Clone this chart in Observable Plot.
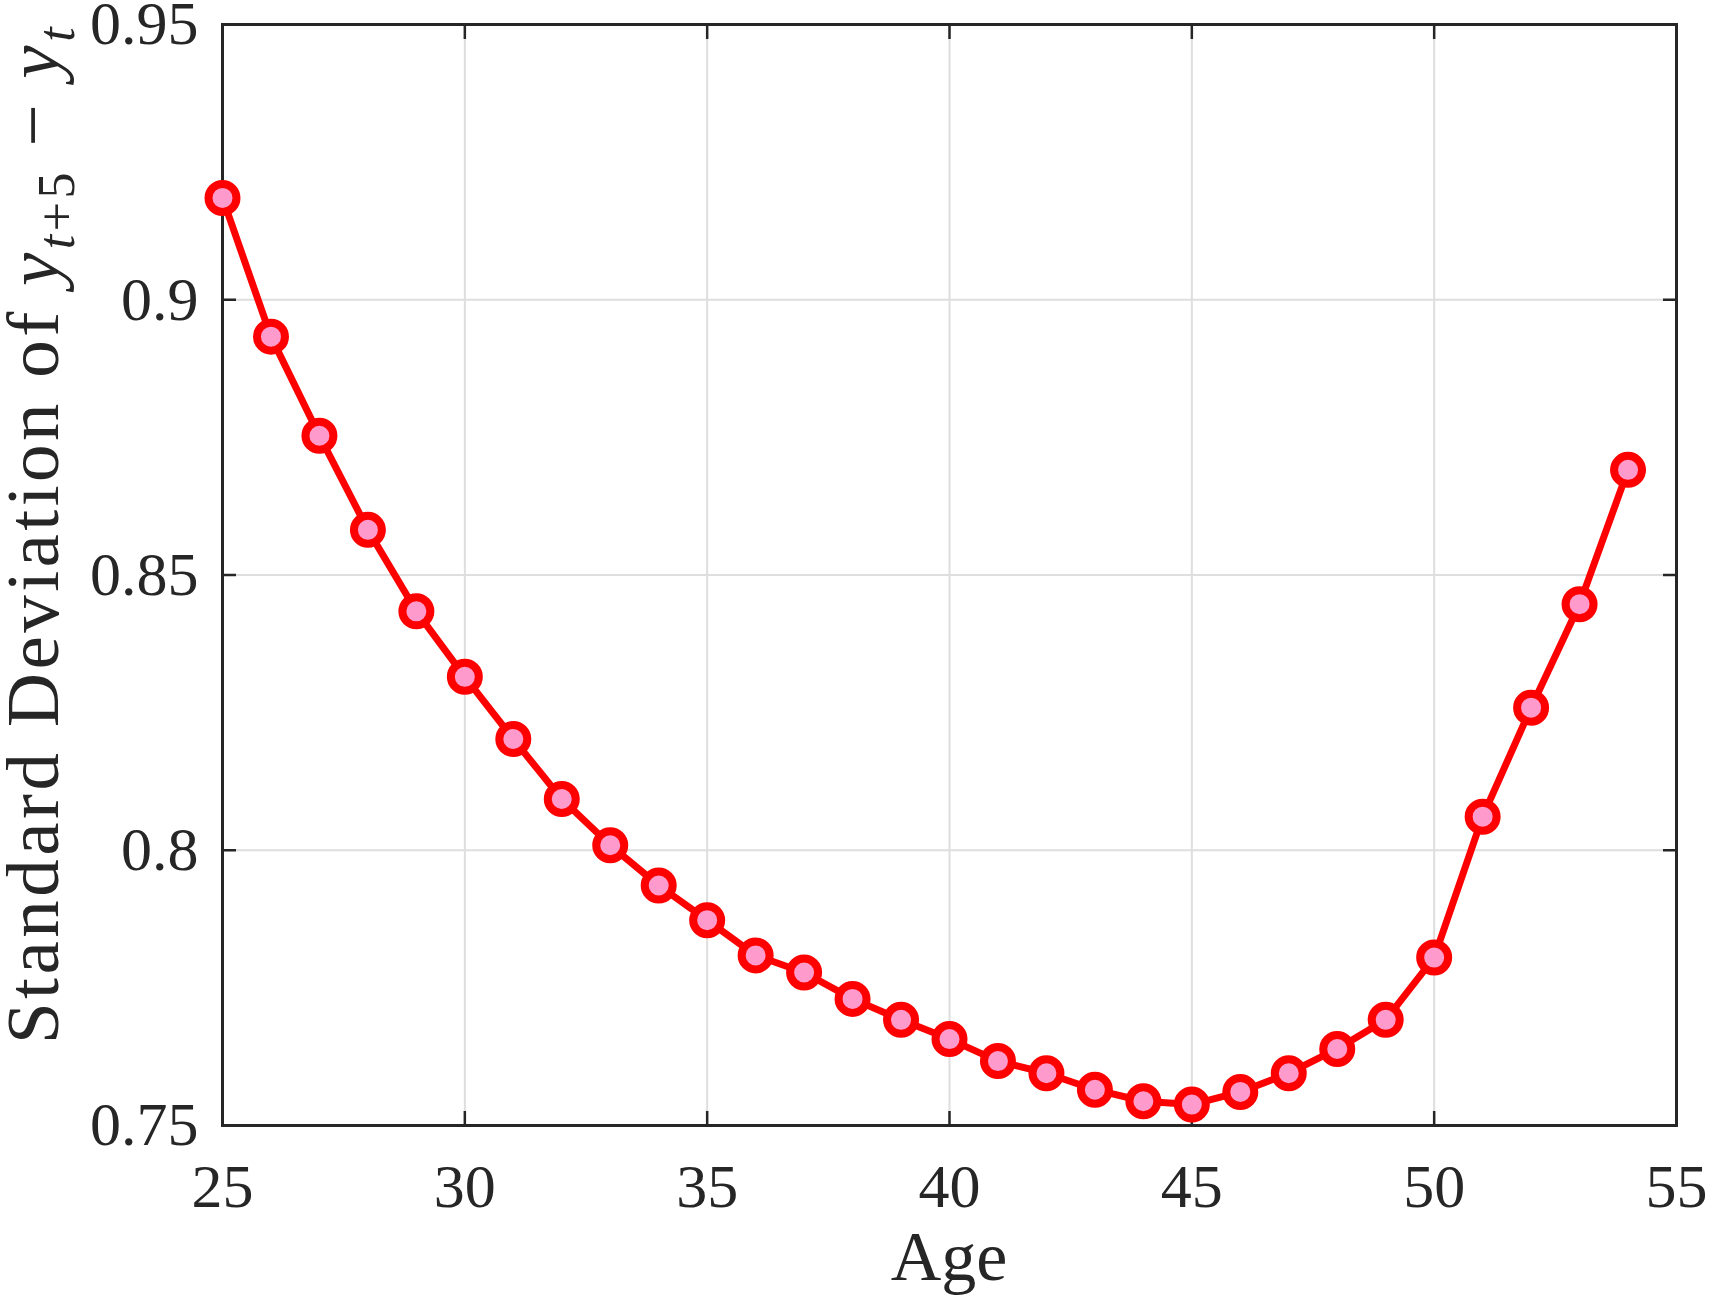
<!DOCTYPE html>
<html>
<head>
<meta charset="utf-8">
<script src="https://cdn.jsdelivr.net/npm/d3@7"></script>
<script src="https://cdn.jsdelivr.net/npm/@observablehq/plot@0.6"></script>
<style>
  html, body { margin: 0; padding: 0; background: #ffffff; }
  svg { display: block; }
  svg text { font-family: "Liberation Serif", "Times New Roman", Times, serif; }
</style>
</head>
<body>
<div id="chart"></div>
<script>
const ages = [25,26,27,28,29,30,31,32,33,34,35,36,37,38,39,40,41,42,43,44,45,46,47,48,49,50,51,52,53,54];
const sdValues = [0.9185,0.8933,0.8753,0.8582,0.8434,0.8315,0.8202,0.8093,0.8009,0.7936,0.7873,0.7809,0.7778,0.7730,0.7692,0.7657,0.7617,0.7595,0.7565,0.7544,0.7538,0.7561,0.7595,0.7639,0.7692,0.7805,0.8061,0.8259,0.8447,0.8691];
const xTicks = [25,30,35,40,45,50,55];
const yTicks = [0.75,0.8,0.85,0.9,0.95];
const xLabel = "Age";

const data = ages.map((a, i) => ({age: a, sd: sdValues[i]}));
const ink = "#262626";
const serif = "Liberation Serif, Times New Roman, Times, serif";
const fmtY = d => String(Math.round(d * 100) / 100);

const plot = Plot.plot({
  width: 1710,
  height: 1297,
  marginTop: 24,
  marginRight: 34,
  marginBottom: 172,
  marginLeft: 222,
  style: {fontFamily: serif, fontSize: "62px", color: ink, background: "#ffffff"},
  x: {domain: [25, 55]},
  y: {domain: [0.75, 0.95]},
  marks: [
    Plot.gridX(xTicks, {stroke: "#dedede", strokeOpacity: 1, strokeWidth: 2}),
    Plot.gridY(yTicks, {stroke: "#dedede", strokeOpacity: 1, strokeWidth: 2}),
    Plot.axisX(xTicks, {anchor: "bottom", tickSize: -14, tickPadding: 51, label: null, tickFormat: d => String(d), strokeWidth: 2.5, stroke: ink, fontSize: 62}),
    Plot.axisX(xTicks, {anchor: "top", tickSize: -14, label: null, fill: "none", strokeWidth: 2.5, stroke: ink}),
    Plot.axisY(yTicks, {anchor: "left", tickSize: -14, tickPadding: 38, label: null, tickFormat: fmtY, strokeWidth: 2.5, stroke: ink, fontSize: 62}),
    Plot.axisY(yTicks, {anchor: "right", tickSize: -14, label: null, fill: "none", strokeWidth: 2.5, stroke: ink}),
    Plot.frame({stroke: ink, strokeWidth: 3}),
    Plot.line(data, {x: "age", y: "sd", stroke: "#ff0000", strokeWidth: 7}),
    Plot.dot(data, {x: "age", y: "sd", r: 14, fill: "#ff9bcc", stroke: "#ff0000", strokeWidth: 8})
  ]
});

const svg = d3.select(plot);

// x-axis label
svg.append("text")
  .attr("x", 949)
  .attr("y", 1280)
  .attr("text-anchor", "middle")
  .attr("fill", ink)
  .attr("font-family", serif)
  .attr("font-size", 70)
  .text(xLabel);

// y-axis label with math
const yt = svg.append("text")
  .attr("transform", "translate(58,534) rotate(-90)")
  .attr("text-anchor", "middle")
  .attr("fill", ink)
  .attr("font-family", serif)
  .attr("font-size", 75)
  .attr("letter-spacing", 3.5);
yt.append("tspan").text("Standard Deviation of ");
yt.append("tspan").attr("font-style", "italic").text("y");
yt.append("tspan").attr("font-size", 52).attr("dy", 16).attr("font-style", "italic").text("t");
yt.append("tspan").attr("font-size", 52).text("+5");
yt.append("tspan").attr("dy", -16).text(" \u2212 ");
yt.append("tspan").attr("font-style", "italic").text("y");
yt.append("tspan").attr("font-size", 52).attr("dy", 16).attr("font-style", "italic").text("t");

document.getElementById("chart").appendChild(plot);
</script>
</body>
</html>
